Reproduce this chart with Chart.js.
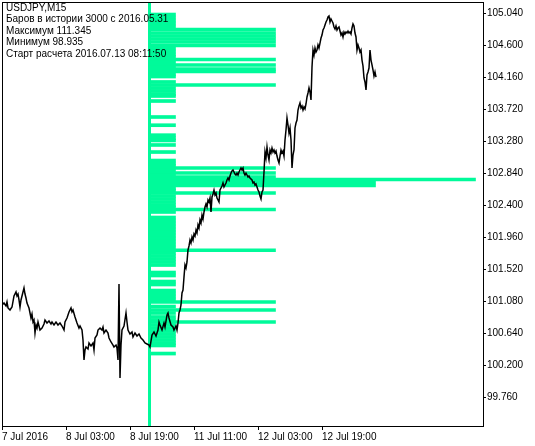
<!DOCTYPE html>
<html>
<head>
<meta charset="utf-8">
<script src="https://cdn.jsdelivr.net/npm/chart.js@4"></script>
<style>
  html, body { margin: 0; padding: 0; background: #fff; }
  #wrap { width: 535px; height: 446px; }
</style>
</head>
<body>
<div id="wrap"><canvas id="chart"></canvas></div>
<script>
// M15 bar index (1 bar = 15 min, bar 0 = 7 Jul 11:00) and close price
const bars = [
  0, 2, 4, 5, 6, 8, 10, 12, 14, 15, 16, 17, 18, 19, 20, 22, 23, 24, 25, 27,
  28, 29, 30, 31, 32, 33, 34, 35, 36, 37, 38, 40, 42, 43, 45, 47, 49, 50, 52, 54,
  56, 58, 60, 61, 62, 63, 65, 67, 69, 70, 71, 73, 75, 77, 78, 80, 81, 82, 83, 84,
  86, 87, 89, 91, 92, 93, 95, 96, 98, 100, 101, 102, 104, 106, 107, 109, 111, 112, 114, 115,
  116, 117, 118, 119, 120, 122, 124, 125, 126, 128, 130, 131, 133, 135, 137, 139, 141, 143, 145, 147,
  148, 150, 152, 154, 156, 157, 158, 160, 162, 163, 165, 166, 167, 169, 171, 172, 174, 175, 176, 177,
  178, 179, 180, 181, 182, 183, 184, 185, 186, 187, 188, 189, 190, 191, 192, 193, 194, 195, 196, 197,
  198, 199, 200, 201, 202, 203, 204, 205, 206, 207, 208, 209, 210, 211, 212, 213, 214, 215, 216, 217,
  218, 219, 220, 221, 222, 223, 224, 225, 226, 227, 228, 229, 230, 231, 232, 233, 234, 235, 236, 237,
  238, 239, 240, 241, 242, 243, 244, 245, 246, 247, 248, 250, 251, 252, 253, 254, 255, 256, 257, 258,
  259, 260, 261, 262, 263, 264, 265, 266, 267, 268, 269, 270, 271, 272, 273, 274, 275, 276, 277, 278,
  279, 280, 281, 282, 283, 284, 285, 286, 287, 288, 289, 290, 291, 292, 293, 294, 295, 296, 297, 298,
  299, 300, 301, 302, 303, 304, 305, 306, 307, 308, 309, 310, 311, 312, 313, 314, 315, 316, 317, 318,
  319, 320, 321, 322, 323, 324, 325, 326, 327, 328, 329, 330, 331, 332, 333, 334, 335, 336, 337, 338,
  339, 340, 341, 342, 343, 344, 345, 346, 347, 348, 349, 350, 351, 352, 353, 354, 355, 356, 357, 358,
  359, 360, 361, 362, 363, 364, 365, 366, 367, 368, 369, 370, 371, 372, 373, 374
];
const closes = [
  101.026, 101.053, 101.012, 101.067, 100.985, 100.957, 100.998, 101.150, 101.205, 101.150,
  101.177, 101.095, 100.998, 101.095, 101.150, 101.260, 101.177, 101.122, 101.053, 100.985,
  100.916, 100.847, 100.902, 100.792, 100.819, 100.641, 100.751, 100.709, 100.792, 100.737,
  100.682, 100.709, 100.764, 100.819, 100.778, 100.806, 100.764, 100.792, 100.751, 100.792,
  100.751, 100.778, 100.737, 100.709, 100.682, 100.792, 100.847, 100.930, 100.985, 100.930,
  100.957, 100.861, 100.778, 100.709, 100.737, 100.682, 100.544, 100.269, 100.407, 100.448,
  100.420, 100.503, 100.462, 100.503, 100.407, 100.572, 100.613, 100.682, 100.709, 100.682,
  100.723, 100.641, 100.682, 100.641, 100.572, 100.517, 100.475, 100.448, 100.475, 100.434,
  100.269, 101.315, 100.021, 100.475, 100.682, 100.737, 100.916, 100.792, 100.682, 100.627,
  100.654, 100.586, 100.641, 100.599, 100.627, 100.572, 100.544, 100.503, 100.489, 100.475,
  100.448, 100.613, 100.654, 100.599, 100.682, 100.792, 100.751, 100.682, 100.778, 100.723,
  100.888, 100.916, 100.847, 100.751, 100.723, 100.682, 100.737, 100.682, 100.778, 100.916,
  100.957, 101.026, 101.191, 101.232, 101.411, 101.576, 101.535, 101.618, 101.783, 101.838,
  101.920, 101.879, 101.962, 101.920, 102.003, 101.975, 102.058, 102.017, 102.127, 102.085,
  102.196, 102.154, 102.264, 102.209, 102.306, 102.374, 102.416, 102.374, 102.471, 102.443,
  102.498, 102.306, 102.512, 102.553, 102.608, 102.540, 102.567, 102.498, 102.471, 102.443,
  102.608, 102.636, 102.663, 102.705, 102.650, 102.677, 102.705, 102.746, 102.774, 102.746,
  102.801, 102.842, 102.870, 102.884, 102.856, 102.829, 102.815, 102.842, 102.815, 102.856,
  102.884, 102.911, 102.884, 102.911, 102.842, 102.815, 102.842, 102.815, 102.787, 102.801,
  102.774, 102.746, 102.705, 102.718, 102.677, 102.691, 102.650, 102.608, 102.581, 102.526,
  102.485, 102.581, 102.608, 102.856, 103.131, 103.049, 103.200, 103.090, 103.021, 103.159,
  103.118, 103.186, 103.131, 103.159, 103.118, 103.145, 103.076, 103.021, 102.980, 103.076,
  103.159, 103.118, 103.145, 103.076, 103.296, 103.434, 103.599, 103.503, 103.393, 103.462,
  103.296, 102.911, 103.090, 103.159, 103.462, 103.530, 103.572, 103.709, 103.764, 103.806,
  103.737, 103.764, 103.709, 103.751, 103.723, 103.792, 103.888, 103.943, 104.012, 103.957,
  103.847, 104.301, 104.535, 104.466, 104.562, 104.507, 104.535, 104.604, 104.562, 104.631,
  104.700, 104.741, 104.810, 104.838, 104.879, 104.920, 104.948, 104.989, 105.003, 104.920,
  104.962, 104.934, 104.906, 104.851, 104.824, 104.865, 104.810, 104.838, 104.851, 104.796,
  104.741, 104.769, 104.714, 104.783, 104.755, 104.783, 104.769, 104.796, 104.769, 104.783,
  104.755, 104.838, 104.893, 104.865, 104.769, 104.714, 104.535, 104.604, 104.562, 104.507,
  104.535, 104.397, 104.315, 104.150, 104.095, 103.985, 104.191, 104.232, 104.287, 104.535,
  104.397, 104.329, 104.260, 104.177, 104.232, 104.163
];

// price levels of the histogram and their length (in bars)
const levelPrices = [
  105.023, 104.982, 104.941, 104.900, 104.858, 104.817, 104.769, 104.728, 104.686, 104.645,
  104.597, 104.556, 104.514, 104.473, 104.439, 104.404, 104.366, 104.329, 104.301, 104.273,
  104.239, 104.205, 104.170, 104.095, 104.053, 104.012, 103.971, 103.929, 103.902, 103.833,
  103.613, 103.500, 103.363, 103.321, 103.290, 103.228, 103.131, 103.014, 102.973, 102.939,
  102.911, 102.877, 102.842, 102.815, 102.787, 102.753, 102.712, 102.670, 102.629, 102.602,
  102.567, 102.526, 102.485, 102.443, 102.402, 102.368, 102.340, 102.306, 102.230, 102.189,
  102.147, 102.106, 102.065, 102.024, 101.982, 101.941, 101.900, 101.858, 101.817, 101.779,
  101.741, 101.700, 101.659, 101.618, 101.576, 101.473, 101.432, 101.349, 101.308, 101.225,
  101.184, 101.143, 101.102, 101.067, 101.005, 100.957, 100.916, 100.861, 100.819, 100.792,
  100.751, 100.709, 100.668, 100.627, 100.586, 100.544, 100.503, 100.469, 100.358
];
const levelLengths = [
  26, 26, 26, 26, 26, 126, 126, 126, 126, 126,
  126, 26, 26, 26, 26, 126, 26, 126, 26, 126,
  126, 26, 26, 26, 126, 26, 26, 26, 26, 26,
  26, 26, 26, 26, 26, 26, 26, 26, 26, 26,
  126, 26, 126, 26, 126, 326, 226, 226, 26, 26,
  126, 26, 26, 26, 26, 26, 126, 26, 26, 26,
  26, 26, 26, 26, 26, 26, 26, 26, 26, 126,
  26, 26, 26, 26, 26, 26, 26, 26, 26, 26,
  26, 26, 26, 126, 26, 126, 26, 26, 26, 126,
  26, 26, 26, 26, 26, 26, 26, 26, 26
];
const startBar = 147.5;

const yTicks = [105.04, 104.6, 104.16, 103.72, 103.28, 102.84, 102.4, 101.96, 101.52, 101.08, 100.64, 100.2, 99.76];
const xTickBars = [0, 64, 128, 192, 256, 320];
const xTickLabels = ['7 Jul 2016', '8 Jul 03:00', '8 Jul 19:00', '11 Jul 11:00', '12 Jul 03:00', '12 Jul 19:00'];
const infoLines = [
  'USDJPY,M15',
  'Баров в истории 3000 с 2016.05.31',
  'Максимум 111.345',
  'Минимум 98.935',
  'Старт расчета 2016.07.13 08:11:50'
];

const yMin = 99.361, yMax = 105.1955;
const green = '#00FA9A';
const fontFamily = '"Liberation Sans", Arial, sans-serif';

Chart.defaults.font.family = fontFamily;
Chart.defaults.font.size = 10;
Chart.defaults.color = '#000';

const framePlugin = {
  id: 'frame',
  afterDatasetsDraw(chart) {
    const { ctx, chartArea: a } = chart;
    ctx.save();
    ctx.fillStyle = '#000';
    ctx.font = '10px ' + fontFamily;
    ctx.textBaseline = 'middle';
    infoLines.forEach((t, i) => ctx.fillText(t, 6, 8 + i * 11.5));
    ctx.strokeStyle = '#000';
    ctx.lineWidth = 1;
    ctx.strokeRect(a.left + 0.5, a.top + 0.5, a.right - a.left, a.bottom - a.top);
    ctx.restore();
  }
};

new Chart(document.getElementById('chart'), {
  type: 'line',
  data: {
    datasets: [
      {
        label: 'USDJPY',
        data: bars.map((b, i) => ({ x: b, y: closes[i] })),
        borderColor: '#000',
        borderWidth: 1.5,
        pointRadius: 0,
        order: 0
      },
      {
        type: 'bar',
        label: 'levels',
        indexAxis: 'y',
        data: levelPrices.map((p, i) => ({ y: p, x: [startBar, startBar + levelLengths[i]] })),
        backgroundColor: green,
        borderWidth: 0,
        barThickness: 3,
        order: 1
      },
      {
        label: 'start',
        data: [{ x: startBar, y: yMax }, { x: startBar, y: yMin }],
        borderColor: green,
        borderWidth: 3,
        pointRadius: 0,
        order: 2
      }
    ]
  },
  options: {
    responsive: true,
    maintainAspectRatio: false,
    animation: false,
    layout: { padding: { left: 2, top: 2, right: 0, bottom: 0 } },
    plugins: { legend: { display: false }, tooltip: { enabled: false } },
    scales: {
      x: {
        type: 'linear',
        min: 0,
        max: 481,
        offset: false,
        beginAtZero: false,
        afterBuildTicks: s => { s.ticks = xTickBars.map(v => ({ value: v })); },
        afterFit: s => { s.height = 20; s.paddingLeft = 0; s.paddingRight = 0; },
        ticks: {
          autoSkip: false,
          maxRotation: 0,
          align: 'start',
          padding: 1,
          callback: (v, i) => xTickLabels[i]
        },
        grid: { offset: false, drawOnChartArea: false, tickLength: 4, color: '#000' },
        border: { display: false }
      },
      y: {
        type: 'linear',
        position: 'right',
        min: yMin,
        max: yMax,
        offset: false,
        afterBuildTicks: s => { s.ticks = yTicks.map(v => ({ value: v })); },
        afterFit: s => { s.width = 52; s.paddingTop = 0; s.paddingBottom = 0; },
        ticks: {
          autoSkip: false,
          padding: 1,
          callback: v => Number(v).toFixed(3)
        },
        grid: { offset: false, drawOnChartArea: false, tickLength: 3, color: '#000' },
        border: { display: false }
      }
    }
  },
  plugins: [framePlugin]
});
</script>
</body>
</html>
